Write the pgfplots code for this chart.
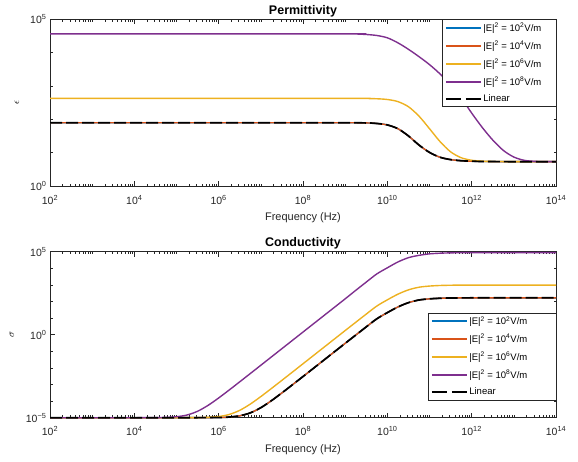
\documentclass[border=0pt]{standalone}
\usepackage{pgfplots}
\pgfplotsset{compat=1.18}
\usepackage{fontspec}
\setmainfont{Liberation Sans}

\definecolor{mblue}{rgb}{0,0.447,0.741}
\definecolor{morange}{rgb}{0.85,0.325,0.098}
\definecolor{myellow}{rgb}{0.929,0.694,0.125}
\definecolor{mpurple}{rgb}{0.494,0.184,0.556}
\definecolor{axgray}{gray}{0.15}

\newcommand{\sq}[1]{10\textsuperscript{#1}}
\newcommand{\fld}[1]{|E|\textsuperscript{2} = 10\textsuperscript{#1}V/m}

\begin{document}
\begin{tikzpicture}[x=1pt,y=1pt]
\path[use as bounding box] (0,0) rectangle (578,461);

% ---------------- permittivity ----------------
\begin{axis}[
  at={(50pt,275pt)}, anchor=south west,
  scale only axis, width=506pt, height=166.5pt,
  xmode=log, ymode=log, xmin=1e2, xmax=1e14, ymin=1, ymax=1e5,
  axis line style={axgray, line width=0.8pt},
  tick style={axgray, line width=0.6pt},
  major tick length=5pt, minor tick length=2.5pt,
  xtick={1e2,1e4,1e6,1e8,1e10,1e12,1e14},
  xticklabels={\sq{2},\sq{4},\sq{6},\sq{8},\sq{10},\sq{12},\sq{14}},
  minor xtick={2e2,3e2,4e2,5e2,6e2,7e2,8e2,9e2,1e3,2e3,3e3,4e3,5e3,6e3,7e3,8e3,9e3,
    2e4,3e4,4e4,5e4,6e4,7e4,8e4,9e4,1e5,2e5,3e5,4e5,5e5,6e5,7e5,8e5,9e5,
    2e6,3e6,4e6,5e6,6e6,7e6,8e6,9e6,1e7,2e7,3e7,4e7,5e7,6e7,7e7,8e7,9e7,
    2e8,3e8,4e8,5e8,6e8,7e8,8e8,9e8,1e9,2e9,3e9,4e9,5e9,6e9,7e9,8e9,9e9,
    2e10,3e10,4e10,5e10,6e10,7e10,8e10,9e10,1e11,2e11,3e11,4e11,5e11,6e11,7e11,8e11,9e11,
    2e12,3e12,4e12,5e12,6e12,7e12,8e12,9e12,1e13,2e13,3e13,4e13,5e13,6e13,7e13,8e13,9e13},
  ytick={1,1e5}, yticklabels={\sq{0},\sq{5}},
  minor ytick={10,100,1000,10000},
  tick label style={font=\fontsize{10.5}{12}\selectfont, text=axgray},
  xticklabel style={anchor=base, yshift=-18.5pt},
  xlabel={Frequency (Hz)},
  xlabel style={at={(axis description cs:0.5,0)}, anchor=base, yshift=-35pt, font=\fontsize{11}{13}\selectfont, text=axgray},
  title={Permittivity},
  title style={at={(axis description cs:0.5,1)}, anchor=base, yshift=-1.5pt, font=\bfseries\fontsize{12.5}{14}\selectfont},
  ylabel={$\epsilon$},
  ylabel style={at={(axis description cs:0,0.5)}, yshift=33pt, anchor=center, font=\fontsize{10}{12}\selectfont},
  clip=false,
  legend cell align=left,
  legend image code/.code={\draw[#1, line width=2pt] (0pt,0pt) -- (35pt,0pt);},
  legend style={at={(1,1)}, anchor=north east, draw=axgray, fill=white,
    font=\fontsize{9.5}{11}\selectfont, inner xsep=3pt, inner ysep=1.5pt, row sep=3.9pt,
    nodes={inner xsep=1.5pt, inner ysep=2pt}},
]
\addplot[mblue, line width=1.4pt, smooth] coordinates {(1e2,79.5) (1e8,79.5) (1e9,79.4) (3.162e9,78.4) (5.623e9,75.5) (1e10,68.2) (1.778e10,52.6) (3.162e10,31.9) (5.623e10,17.0) (1e11,10.2) (1.778e11,7.3) (3.162e11,6.2) (5.623e11,5.75) (1e12,5.55) (1.778e12,5.45) (3.162e12,5.41) (1e13,5.38) (1e14,5.37)};
\addlegendentry{\fld{2}\hspace*{10pt}}
\addplot[morange, line width=1.4pt, smooth] coordinates {(1e2,79.5) (1e8,79.5) (1e9,79.4) (3.162e9,78.4) (5.623e9,75.5) (1e10,68.2) (1.778e10,52.6) (3.162e10,31.9) (5.623e10,17.0) (1e11,10.2) (1.778e11,7.3) (3.162e11,6.2) (5.623e11,5.75) (1e12,5.55) (1.778e12,5.45) (3.162e12,5.41) (1e13,5.38) (1e14,5.37)};
\addlegendentry{\fld{4}}
\addplot[myellow, line width=1.4pt, smooth] coordinates {(1e2,427) (1e9,427) (3.162e9,423.7) (5.623e9,416.7) (1e10,396) (1.778e10,342.4) (3.162e10,240.4) (5.623e10,125.5) (1e11,52.6) (1.778e11,21.55) (3.162e11,10.64) (5.623e11,7.07) (1e12,5.93) (1.778e12,5.57) (3.162e12,5.45) (1e13,5.41) (1e14,5.4)};
\addlegendentry{\fld{6}}
\addplot[mpurple, line width=1.4pt, smooth] coordinates {(1e2,37154) (1e9,37154) (1.778e9,36728) (3.162e9,35481) (5.623e9,33113) (1e10,28184) (1.778e10,19953) (3.162e10,12735) (5.623e10,7674) (1e11,4416) (1.778e11,2317) (3.162e11,1072) (5.623e11,446.7) (1e12,154.9) (1.778e12,57.5) (3.162e12,23.99) (5.623e12,11.75) (1e13,7.41) (1.778e13,5.89) (3.162e13,5.50) (5.623e13,5.40) (1e14,5.37)};
\addlegendentry{\fld{8}}
\addplot[black, line width=1.7pt, dash pattern=on 12pt off 4pt, smooth, forget plot] coordinates {(1e2,79.5) (1e8,79.5) (1e9,79.4) (3.162e9,78.4) (5.623e9,75.5) (1e10,68.2) (1.778e10,52.6) (3.162e10,31.9) (5.623e10,17.0) (1e11,10.2) (1.778e11,7.3) (3.162e11,6.2) (5.623e11,5.75) (1e12,5.55) (1.778e12,5.45) (3.162e12,5.41) (1e13,5.38) (1e14,5.37)};
\addlegendimage{black, dash pattern=on 15pt off 5pt}
\addlegendentry{Linear}
\end{axis}

% ---------------- conductivity ----------------
\begin{axis}[
  at={(50pt,43.3pt)}, anchor=south west,
  scale only axis, width=506pt, height=166pt,
  xmode=log, ymode=log, xmin=1e2, xmax=1e14, ymin=1e-5, ymax=1e5,
  axis line style={axgray, line width=0.8pt},
  tick style={axgray, line width=0.6pt},
  major tick length=5pt, minor tick length=2.5pt,
  xtick={1e2,1e4,1e6,1e8,1e10,1e12,1e14},
  xticklabels={\sq{2},\sq{4},\sq{6},\sq{8},\sq{10},\sq{12},\sq{14}},
  minor xtick={2e2,3e2,4e2,5e2,6e2,7e2,8e2,9e2,1e3,2e3,3e3,4e3,5e3,6e3,7e3,8e3,9e3,
    2e4,3e4,4e4,5e4,6e4,7e4,8e4,9e4,1e5,2e5,3e5,4e5,5e5,6e5,7e5,8e5,9e5,
    2e6,3e6,4e6,5e6,6e6,7e6,8e6,9e6,1e7,2e7,3e7,4e7,5e7,6e7,7e7,8e7,9e7,
    2e8,3e8,4e8,5e8,6e8,7e8,8e8,9e8,1e9,2e9,3e9,4e9,5e9,6e9,7e9,8e9,9e9,
    2e10,3e10,4e10,5e10,6e10,7e10,8e10,9e10,1e11,2e11,3e11,4e11,5e11,6e11,7e11,8e11,9e11,
    2e12,3e12,4e12,5e12,6e12,7e12,8e12,9e12,1e13,2e13,3e13,4e13,5e13,6e13,7e13,8e13,9e13},
  ytick={1e-5,1,1e5}, yticklabels={\sq{−5},\sq{0},\sq{5}},
  minor ytick={1e-4,1e-3,1e-2,1e-1,10,100,1000,10000},
  tick label style={font=\fontsize{10.5}{12}\selectfont, text=axgray},
  xticklabel style={anchor=base, yshift=-18pt},
  xlabel={Frequency (Hz)},
  xlabel style={at={(axis description cs:0.5,0)}, anchor=base, yshift=-35pt, font=\fontsize{11}{13}\selectfont, text=axgray},
  title={Conductivity},
  title style={at={(axis description cs:0.5,1)}, anchor=base, yshift=-0.5pt, font=\bfseries\fontsize{12.5}{14}\selectfont},
  ylabel={$\sigma$},
  ylabel style={at={(axis description cs:0,0.5)}, yshift=38pt, anchor=center, font=\fontsize{10}{12}\selectfont},
  clip=false,
  legend cell align=left,
  legend image code/.code={\draw[#1, line width=2pt] (0pt,0pt) -- (35pt,0pt);},
  legend style={at={(1,0.107)}, anchor=south east, draw=axgray, fill=white,
    font=\fontsize{9.5}{11}\selectfont, inner xsep=3pt, inner ysep=1.5pt, row sep=3.9pt,
    nodes={inner xsep=1.5pt, inner ysep=2pt}},
]
\addplot[mblue, line width=1.4pt, smooth] coordinates {(1e2,1e-5) (1e5,1e-5) (1e6,1.03e-5) (1.778e6,1.096e-5) (3.162e6,1.303e-5) (5.623e6,1.954e-5) (1e7,4.02e-5) (1.778e7,1.055e-4) (3.162e7,3.12e-4) (5.623e7,9.66e-4) (1e8,3.02e-3) (1.778e8,9.55e-3) (3.162e8,3.02e-2) (5.623e8,9.55e-2) (1e9,0.302) (1.778e9,0.948) (3.162e9,2.965) (5.623e9,9.04) (1e10,21.38) (1.778e10,46.77) (3.162e10,85.1) (5.623e10,123.0) (1e11,144.5) (1.778e11,156.7) (3.162e11,162.2) (5.623e11,165.2) (1e12,166) (1e14,166)};
\addlegendentry{\fld{2}\hspace*{24pt}}
\addplot[morange, line width=1.4pt, smooth] coordinates {(1e2,1e-5) (1e5,1e-5) (1e6,1.03e-5) (1.778e6,1.096e-5) (3.162e6,1.303e-5) (5.623e6,1.954e-5) (1e7,4.02e-5) (1.778e7,1.055e-4) (3.162e7,3.12e-4) (5.623e7,9.66e-4) (1e8,3.02e-3) (1.778e8,9.55e-3) (3.162e8,3.02e-2) (5.623e8,9.55e-2) (1e9,0.302) (1.778e9,0.948) (3.162e9,2.965) (5.623e9,9.04) (1e10,21.38) (1.778e10,46.77) (3.162e10,85.1) (5.623e10,123.0) (1e11,144.5) (1.778e11,156.7) (3.162e11,162.2) (5.623e11,165.2) (1e12,166) (1e14,166)};
\addlegendentry{\fld{4}}
\addplot[myellow, line width=1.4pt, smooth] coordinates {(1e2,1e-5) (1e5,1e-5) (3.162e5,1.018e-5) (5.623e5,1.056e-5) (1e6,1.178e-5) (1.778e6,1.563e-5) (3.162e6,2.78e-5) (5.623e6,6.62e-5) (1e7,1.878e-4) (1.778e7,5.73e-4) (3.162e7,1.786e-3) (5.623e7,5.62e-3) (1e8,1.778e-2) (1.778e8,5.62e-2) (3.162e8,0.1778) (5.623e8,0.562) (1e9,1.778) (1.778e9,5.58) (3.162e9,17.46) (5.623e9,53.2) (1e10,125.9) (1.778e10,275.4) (3.162e10,501.2) (5.623e10,724.4) (1e11,851.1) (1.778e11,922.6) (3.162e11,955) (5.623e11,972.8) (1e12,977.2) (1e14,977.2)};
\addlegendentry{\fld{6}}
\addplot[mpurple, line width=1.4pt, smooth] coordinates {(1e2,1e-5) (1e4,1e-5) (3.162e4,1.014e-5) (5.623e4,1.047e-5) (1e5,1.146e-5) (1.778e5,1.456e-5) (3.162e5,2.44e-5) (5.623e5,5.57e-5) (1e6,1.545e-4) (1.778e6,4.67e-4) (3.162e6,1.455e-3) (5.623e6,4.57e-3) (1e7,1.445e-2) (1.778e7,4.57e-2) (3.162e7,0.1445) (5.623e7,0.457) (1e8,1.445) (1.778e8,4.571) (3.162e8,14.45) (5.623e8,45.71) (1e9,144.5) (1.778e9,467.7) (3.162e9,1479) (5.623e9,4571) (1e10,10715) (1.778e10,23990) (3.162e10,43650) (5.623e10,60260) (1e11,74130) (1.778e11,81280) (3.162e11,85110) (5.623e11,87100) (1e12,88100) (1e14,88100)};
\addlegendentry{\fld{8}}
\addplot[black, line width=1.7pt, dash pattern=on 12pt off 4pt, smooth, forget plot] coordinates {(1e2,1e-5) (1e5,1e-5) (1e6,1.03e-5) (1.778e6,1.096e-5) (3.162e6,1.303e-5) (5.623e6,1.954e-5) (1e7,4.02e-5) (1.778e7,1.055e-4) (3.162e7,3.12e-4) (5.623e7,9.66e-4) (1e8,3.02e-3) (1.778e8,9.55e-3) (3.162e8,3.02e-2) (5.623e8,9.55e-2) (1e9,0.302) (1.778e9,0.948) (3.162e9,2.965) (5.623e9,9.04) (1e10,21.38) (1.778e10,46.77) (3.162e10,85.1) (5.623e10,123.0) (1e11,144.5) (1.778e11,156.7) (3.162e11,162.2) (5.623e11,165.2) (1e12,166) (1e14,166)};
\addlegendimage{black, dash pattern=on 15pt off 5pt}
\addlegendentry{Linear}
\end{axis}
\end{tikzpicture}
\end{document}
